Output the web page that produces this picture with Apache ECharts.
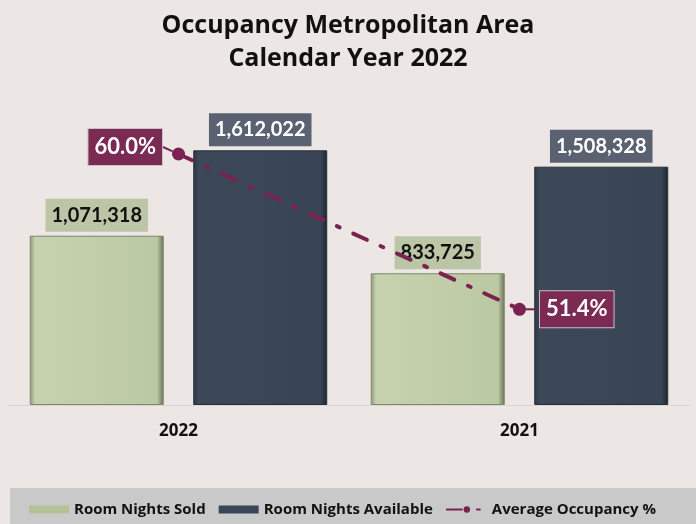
<!DOCTYPE html>
<html>
<head>
<meta charset="utf-8">
<script src="https://cdn.jsdelivr.net/npm/echarts@6/dist/echarts.min.js"></script>
<style>
  html, body { margin: 0; padding: 0; background: #ece7e4; }
  #chart { width: 696px; height: 524px; }
</style>
</head>
<body>
<div id="chart"></div>
<script>
// data
const categories = ['2022', '2021'];
const roomNightsSold = [1071318, 833725];
const roomNightsAvailable = [1612022, 1508328];
const avgOccupancy = [60.0, 51.4];

const fmtNum = v => Number(v).toLocaleString('en-US');

const chart = echarts.init(document.getElementById('chart'));

// bevel-ish look for the bars
const greenFill = new echarts.graphic.LinearGradient(0, 0, 1, 0, [
  { offset: 0, color: '#8e9878' },
  { offset: 0.04, color: '#c6d2ae' },
  { offset: 0.95, color: '#bbc9a3' },
  { offset: 1, color: '#676f55' }
]);
const darkFill = new echarts.graphic.LinearGradient(0, 0, 1, 0, [
  { offset: 0, color: '#2d3743' },
  { offset: 0.04, color: '#3c4858' },
  { offset: 0.95, color: '#394555' },
  { offset: 1, color: '#1c232c' }
]);

const option = {
  backgroundColor: '#ece7e4',
  title: {
    text: 'Occupancy Metropolitan Area\nCalendar Year 2022',
    left: 'center',
    top: 4,
    textStyle: {
      fontFamily: 'Open Sans',
      fontWeight: 'bold',
      fontSize: 25,
      lineHeight: 33,
      color: '#111'
    }
  },
  graphic: [{
    type: 'rect',
    z: -1,
    shape: { x: 10, y: 488, width: 686, height: 36 },
    style: { fill: '#c9c9c9' }
  }],
  legend: {
    left: 24,
    top: 497,
    itemGap: 13,
    itemWidth: 40,
    itemHeight: 8,
    textStyle: { fontFamily: 'Open Sans', fontWeight: 'bold', fontSize: 15, color: '#111' },
    data: [
      { name: 'Room Nights Sold', icon: 'rect', itemStyle: { color: '#b3c197', borderWidth: 0 } },
      { name: 'Room Nights Available', icon: 'rect', itemStyle: { color: '#3a4656', borderWidth: 0 } },
      { name: 'Average Occupancy %' }
    ]
  },
  grid: { left: 8, right: 6, top: 89, bottom: 119, containLabel: false },
  xAxis: {
    type: 'category',
    data: categories,
    axisTick: { show: false },
    axisLine: { lineStyle: { color: '#d6d6d6', width: 1 } },
    axisLabel: {
      margin: 18,
      fontFamily: 'Open Sans',
      fontWeight: 'bold',
      fontSize: 17,
      color: '#111'
    }
  },
  yAxis: [
    { type: 'value', min: 0, max: 2000000, show: false, splitLine: { show: false } },
    { type: 'value', min: 46.1, max: 63.6, show: false, splitLine: { show: false } }
  ],
  series: [
    {
      name: 'Room Nights Sold',
      type: 'bar',
      data: roomNightsSold,
      barWidth: 134,
      barGap: '22%',
      itemStyle: { color: greenFill, borderColor: '#7d8668', borderWidth: 1 },
      label: {
        show: true,
        position: 'top',
        distance: 4,
        formatter: p => fmtNum(p.value),
        fontFamily: 'Lato',
        fontWeight: 'bold',
        fontSize: 20,
        lineHeight: 23,
        color: '#111',
        backgroundColor: '#bcc6a6',
        padding: [5, 6]
      }
    },
    {
      name: 'Room Nights Available',
      type: 'bar',
      data: roomNightsAvailable,
      barWidth: 134,
      itemStyle: { color: darkFill, borderColor: '#26303b', borderWidth: 1 },
      label: {
        show: true,
        position: 'top',
        distance: 4,
        formatter: p => fmtNum(p.value),
        fontFamily: 'Lato',
        fontWeight: 'bold',
        fontSize: 20,
        lineHeight: 23,
        color: '#fff',
        backgroundColor: '#5a6272',
        padding: [5, 6]
      }
    },
    {
      name: 'Average Occupancy %',
      type: 'line',
      yAxisIndex: 1,
      z: 5,
      symbol: 'circle',
      symbolSize: 13,
      itemStyle: { color: '#7a2250' },
      lineStyle: { color: '#7a2250', width: 4, type: [15, 15, 3, 15], cap: 'round' },
      data: avgOccupancy.map((v, i) => ({
        value: v,
        label: i === 0
          ? { position: 'left', distance: 10 }
          : { position: 'right', distance: 14 }
      })),
      label: {
        show: true,
        formatter: p => p.value.toFixed(1) + '%',
        fontFamily: 'Lato',
        fontWeight: 'bold',
        fontSize: 22,
        lineHeight: 24,
        color: '#fff',
        backgroundColor: '#7a2a53',
        borderColor: '#c8c0c4',
        borderWidth: 1,
        padding: [6, 6]
      },
      labelLayout: p => (p.dataIndex === 0 ? { dy: -7 } : {}),
      labelLine: { show: true, lineStyle: { color: '#7a2250', width: 2 } }
    }
  ]
};

chart.setOption(option);
</script>
</body>
</html>
